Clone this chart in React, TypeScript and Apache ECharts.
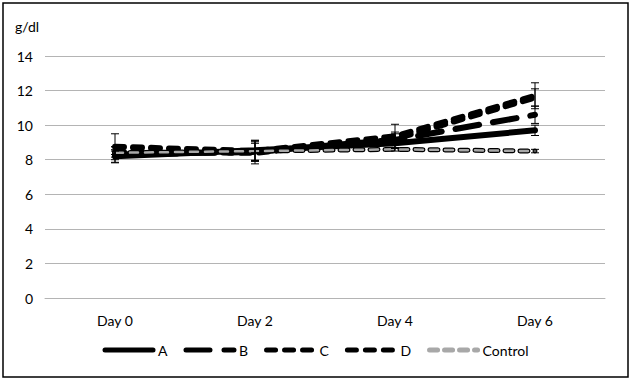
import React, { useEffect, useRef } from "react";
import * as echarts from "echarts";

const categories = ["Day 0", "Day 2", "Day 4", "Day 6"];
const yTicks = [0, 2, 4, 6, 8, 10, 12, 14];
const seriesA = [8.2, 8.55, 8.95, 9.7];
const seriesB = [8.3, 8.45, 9.15, 10.6];
const seriesC = [8.75, 8.5, 9.35, 11.7];
const seriesD = [8.45, 8.4, 9.2, 11.6];
const seriesControl = [8.4, 8.5, 8.6, 8.5];
const errA = [0.38, 0.58, 0.3, 0.3];
const errB = [0.45, 0.5, 0.45, 0.5];
const errC = [0.75, 0.6, 0.7, 0.75];
const errD = [0.3, 0.64, 0.3, 0.5];
const errControl = [0.1, 0.1, 0.1, 0.1];

const FONT = "Lato, 'Open Sans', sans-serif";

function errorData(means: number[], errs: number[]) {
  return means.map((m, i) => [i, m - errs[i], m + errs[i]]);
}

function errorSeries(name: string, means: number[], errs: number[]) {
  return {
    type: "custom",
    name: name + " err",
    z: 5,
    silent: true,
    renderItem: (params: any, api: any) => {
      const x = api.value(0);
      const lo = api.coord([x, api.value(1)]);
      const hi = api.coord([x, api.value(2)]);
      const style = { stroke: "#000", lineWidth: 1 };
      return {
        type: "group",
        children: [
          { type: "line", shape: { x1: lo[0], y1: lo[1], x2: hi[0], y2: hi[1] }, style },
          { type: "line", shape: { x1: lo[0] - 4, y1: lo[1], x2: lo[0] + 4, y2: lo[1] }, style },
          { type: "line", shape: { x1: hi[0] - 4, y1: hi[1], x2: hi[0] + 4, y2: hi[1] }, style },
        ],
      };
    },
    data: errorData(means, errs),
  };
}

function lineSeries(name: string, data: number[], lineStyle: any, z = 3) {
  return {
    type: "line",
    name,
    data,
    symbol: "none",
    showSymbol: false,
    symbolSize: 0,
    z,
    lineStyle: { cap: "round", ...lineStyle },
    itemStyle: { color: lineStyle.color, opacity: 0 },
    emphasis: { disabled: true },
  };
}

export default function App() {
  const ref = useRef<HTMLDivElement>(null);
  useEffect(() => {
    document.body.style.margin = "0";
    const chart = echarts.init(ref.current!, null, { renderer: "svg" });
    chart.setOption({
      animation: false,
      backgroundColor: "#fff",
      textStyle: { fontFamily: FONT },
      grid: { left: 45, right: 26, top: 56, bottom: 86 },
      graphic: [
        {
          type: "rect",
          shape: { x: 3, y: 3, width: 625, height: 374 },
          style: { fill: "none", stroke: "#000", lineWidth: 1.5 },
          z: 0,
        },
        {
          type: "text",
          left: 15,
          top: 19,
          style: { text: "g/dl", font: `14px ${FONT}`, fill: "#000" },
        },
      ],
      legend: {
        bottom: 22,
        left: "center",
        itemWidth: 48,
        itemHeight: 12,
        itemGap: 16,
        itemStyle: { opacity: 0 },
        lineStyle: { width: 5 },
        textStyle: { fontSize: 14, color: "#000", fontFamily: FONT },
        data: ["A", "B", "C", "D", "Control"],
      },
      xAxis: {
        type: "category",
        data: categories,
        boundaryGap: true,
        axisLine: { show: true, lineStyle: { color: "#b4b4b4", width: 1 } },
        axisTick: { show: false },
        axisLabel: { fontSize: 14, color: "#000", margin: 15, fontFamily: FONT },
      },
      yAxis: {
        type: "value",
        min: yTicks[0],
        max: yTicks[yTicks.length - 1],
        interval: 2,
        axisLine: { show: false },
        axisTick: { show: false },
        splitLine: { lineStyle: { color: "#b4b4b4", width: 1 } },
        axisLabel: { fontSize: 14, color: "#000", margin: 12, fontFamily: FONT },
      },
      series: [
        lineSeries("Control", seriesControl, { color: "#a8a8a8", width: 2.5, type: [8, 7] }, 4),
        lineSeries("Control", seriesControl, { color: "#000", width: 5, type: [8, 7] }, 3),
        lineSeries("A", seriesA, { color: "#000", width: 6, type: "solid" }),
        lineSeries("B", seriesB, { color: "#000", width: 6, type: [24, 14] }),
        lineSeries("C", seriesC, { color: "#000", width: 6, type: [9, 9] }),
        lineSeries("D", seriesD, { color: "#000", width: 6, type: [9, 9] }),
        errorSeries("A", seriesA, errA),
        errorSeries("B", seriesB, errB),
        errorSeries("C", seriesC, errC),
        errorSeries("D", seriesD, errD),
        errorSeries("Control", seriesControl, errControl),
      ],
    });
    return () => chart.dispose();
  }, []);
  return <div ref={ref} style={{ width: 631, height: 384 }} />;
}
